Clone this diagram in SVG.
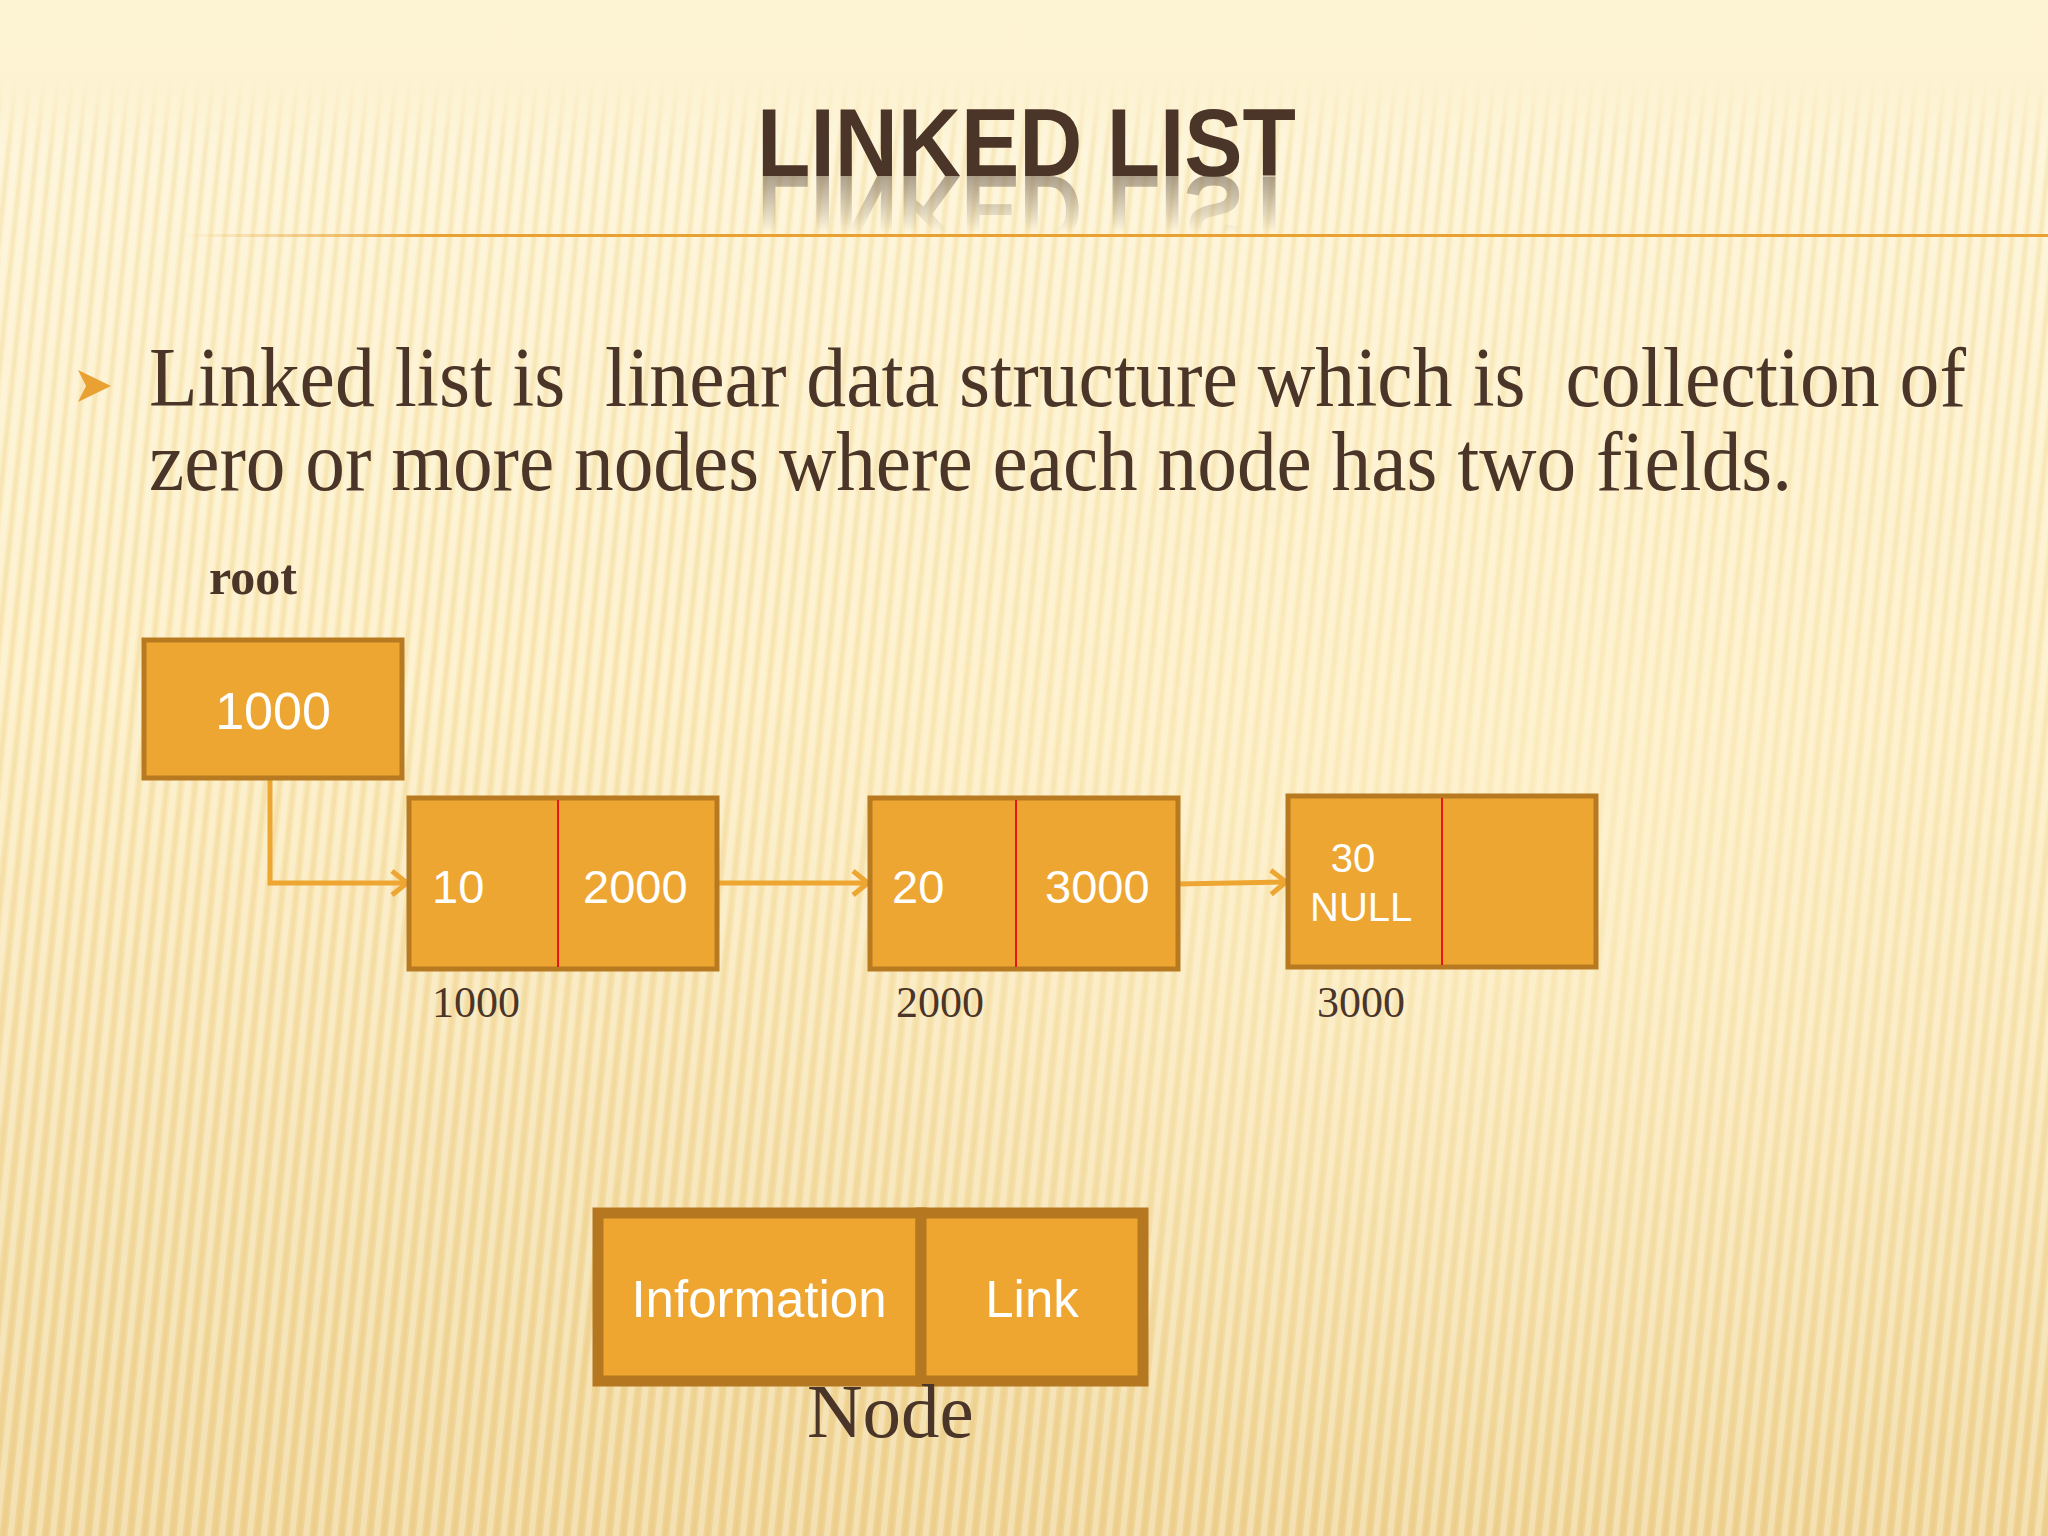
<svg xmlns="http://www.w3.org/2000/svg" width="2048" height="1536" viewBox="0 0 2048 1536">
<defs>
<style>
.cell{fill:#eea632;stroke:#b87a20;stroke-width:5}
.big{fill:#eea630;stroke:#b57820;stroke-width:11}
.wt{font-family:"Liberation Sans",Arial,sans-serif;fill:#ffffff}
.tm{font-family:"Liberation Serif","Times New Roman",serif;fill:#4a3528}
.div{stroke:#e8141a;stroke-width:2}
.conn{fill:none;stroke:#eea632;stroke-width:5}
</style>
<linearGradient id="bg" x1="0" y1="0" x2="0" y2="1">
<stop offset="0" stop-color="#fdf4d4"/>
<stop offset="0.45" stop-color="#fcecbd"/>
<stop offset="1" stop-color="#efd392"/>
</linearGradient>
<radialGradient id="glow" cx="0.75" cy="0.55" r="0.45">
<stop offset="0" stop-color="#fff3cf" stop-opacity="0.55"/>
<stop offset="1" stop-color="#fff3cf" stop-opacity="0"/>
</radialGradient>
<pattern id="stripes" width="14" height="1536" patternUnits="userSpaceOnUse" patternTransform="rotate(6)">
<rect x="0" y="0" width="6" height="1536" fill="#ffffff" opacity="0.3"/>
<rect x="8" y="0" width="4" height="1536" fill="#d9b56a" opacity="0.15"/>
</pattern>
<linearGradient id="stripeFade" x1="0" y1="0" x2="0" y2="1">
<stop offset="0" stop-color="#fff" stop-opacity="0"/>
<stop offset="0.05" stop-color="#fff" stop-opacity="0"/>
<stop offset="0.1" stop-color="#fff" stop-opacity="1"/>
<stop offset="1" stop-color="#fff" stop-opacity="1"/>
</linearGradient>
<mask id="stripeMask">
<rect width="2048" height="1536" fill="url(#stripeFade)"/>
</mask>
<linearGradient id="rule" x1="0" y1="0" x2="1" y2="0">
<stop offset="0.02" stop-color="#e9a134" stop-opacity="0"/>
<stop offset="0.15" stop-color="#e9a134" stop-opacity="1"/>
<stop offset="1" stop-color="#e9a134" stop-opacity="1"/>
</linearGradient>
<linearGradient id="reflFade" x1="0" y1="176" x2="0" y2="232" gradientUnits="userSpaceOnUse">
<stop offset="0" stop-color="#fff" stop-opacity="0.55"/>
<stop offset="1" stop-color="#fff" stop-opacity="0"/>
</linearGradient>
<mask id="reflMask">
<rect x="700" y="176" width="650" height="60" fill="url(#reflFade)"/>
</mask>
<marker id="arr" markerUnits="userSpaceOnUse" markerWidth="24" markerHeight="30" refX="19" refY="14" orient="auto">
<path d="M4,2 L19,14 L4,26" fill="none" stroke="#eea632" stroke-width="5"/>
</marker>
</defs>

<g id="background">
<rect width="2048" height="1536" fill="url(#bg)"/>
<rect width="2048" height="1536" fill="url(#stripes)" mask="url(#stripeMask)"/>
<rect width="2048" height="1536" fill="url(#glow)"/>
</g>

<g id="title">
<text x="757" y="176" textLength="539" lengthAdjust="spacingAndGlyphs" font-family="Liberation Sans,Arial,sans-serif" font-weight="bold" font-size="96" fill="#4a3528">LINKED LIST</text>
<g mask="url(#reflMask)">
<text x="757" y="-176" transform="scale(1,-1)" textLength="539" lengthAdjust="spacingAndGlyphs" font-family="Liberation Sans,Arial,sans-serif" font-weight="bold" font-size="96" fill="#6b5a4c">LINKED LIST</text>
</g>
<rect x="144" y="234" width="1904" height="3" fill="url(#rule)"/>
</g>

<g id="body">
<polygon points="78,370 111,386 78,402 86,386" fill="#e9a134"/>
<text class="tm" x="149" y="406" font-size="84" textLength="1817" lengthAdjust="spacingAndGlyphs" style="white-space:pre">Linked list is  linear data structure which is  collection of</text>
<text class="tm" x="149" y="490" font-size="84" textLength="1643" lengthAdjust="spacingAndGlyphs">zero or more nodes where each node has two fields.</text>
<text class="tm" x="209" y="594" font-size="50" font-weight="bold">root</text>
</g>

<g id="connectors">
<path class="conn" d="M270,778 L270,883 L407,883" marker-end="url(#arr)"/>
<path class="conn" d="M717,883 L868,883" marker-end="url(#arr)"/>
<path class="conn" d="M1178,884 L1286,882" marker-end="url(#arr)"/>
</g>

<g id="root-node">
<rect class="cell" x="144" y="640" width="258" height="138"/>
<text class="wt" x="273" y="729" font-size="52" text-anchor="middle">1000</text>
</g>

<g id="node1">
<rect class="cell" x="409" y="798" width="308" height="171"/>
<line class="div" x1="558" y1="800" x2="558" y2="967"/>
<text class="wt" x="432" y="903" font-size="47">10</text>
<text class="wt" x="583" y="903" font-size="47">2000</text>
<text class="tm" x="432" y="1017" font-size="44">1000</text>
</g>

<g id="node2">
<rect class="cell" x="870" y="798" width="308" height="171"/>
<line class="div" x1="1016" y1="800" x2="1016" y2="967"/>
<text class="wt" x="892" y="903" font-size="47">20</text>
<text class="wt" x="1045" y="903" font-size="47">3000</text>
<text class="tm" x="896" y="1017" font-size="44">2000</text>
</g>

<g id="node3">
<rect class="cell" x="1288" y="796" width="308" height="171"/>
<line class="div" x1="1442" y1="798" x2="1442" y2="965"/>
<text class="wt" x="1353" y="872" font-size="40" text-anchor="middle">30</text>
<text class="wt" x="1310" y="921" font-size="40">NULL</text>
<text class="tm" x="1317" y="1017" font-size="44">3000</text>
</g>

<g id="legend-node">
<rect class="big" x="598" y="1213" width="323" height="168"/>
<rect class="big" x="921" y="1213" width="222" height="168"/>
<text class="wt" x="759" y="1317" font-size="51" text-anchor="middle">Information</text>
<text class="wt" x="1032" y="1317" font-size="51" text-anchor="middle">Link</text>
<text class="tm" x="807" y="1437" font-size="77" fill="#3d2a20">Node</text>
</g>
</svg>
